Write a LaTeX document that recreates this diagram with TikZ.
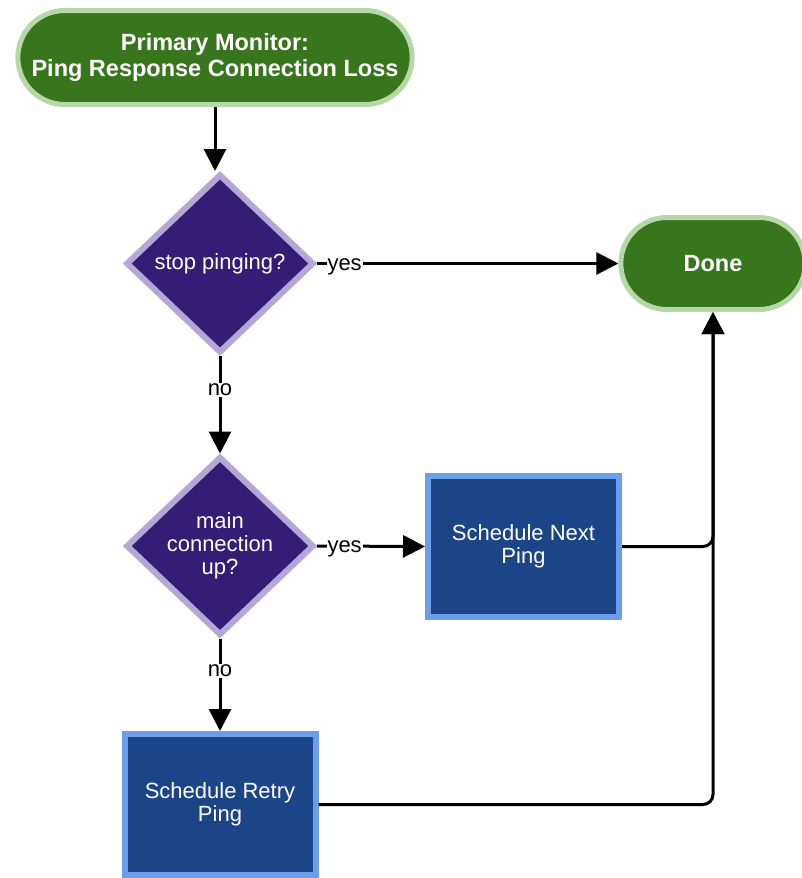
\documentclass[tikz,border=0pt]{standalone}
\usepackage{fontspec}
\setmainfont{Liberation Sans}
\usepackage{tikz}
\usetikzlibrary{arrows.meta, positioning, shapes.geometric, shapes.misc}

\definecolor{termfill}{HTML}{38761D}
\definecolor{termedge}{HTML}{B6D7A8}
\definecolor{decfill}{HTML}{351C75}
\definecolor{decedge}{HTML}{B4A7D6}
\definecolor{procfill}{HTML}{1C4587}
\definecolor{procedge}{HTML}{6D9EEB}

\tikzset{
  terminal/.style={rounded rectangle, fill=termfill, draw=termedge, line width=5pt,
    text=white, align=center, font=\bfseries\fontsize{23.5}{26}\selectfont},
  decision/.style={diamond, fill=decfill, draw=decedge, line width=6pt, inner sep=0pt,
    minimum width=188pt, minimum height=179pt,
    text=white, align=center, font=\fontsize{22}{23}\selectfont},
  process/.style={rectangle, fill=procfill, draw=procedge, line width=6pt,
    minimum width=191pt, minimum height=141pt,
    text=white, align=center, font=\fontsize{22}{23}\selectfont},
  flowline/.style={line width=3pt, black, -{Triangle[length=22pt, width=22pt]}},
  flowlabel/.style={fill=white, inner sep=1pt, text=black, font=\fontsize{22}{23}\selectfont},
}

\begin{document}
\begin{tikzpicture}[x=1pt, y=-1pt]

\useasboundingbox (0,0) rectangle (802,878);

% Draw the start and end
\node[terminal, minimum width=401pt, minimum height=94pt] (start) at (215,57.5) {Primary Monitor:\\Ping Response Connection Loss};
\node[terminal, minimum width=191pt, minimum height=92pt] (done) at (713,263.5) {Done};

% Draw the decisions
\node[decision] (stop) at (220,263.5) {stop pinging?};
\node[decision] (up) at (220,546) {main\\connection\\up?};

% Draw the boxes
\node[process] (next) at (523.5,546.5) {Schedule Next\\Ping};
\node[process] (retry) at (220,804.5) {Schedule Retry\\Ping};

% Draw the arrows
\draw[flowline] (start.south) -- (start.south |- stop.north);
\draw[flowline] (stop.east) -- node[flowlabel, pos=0, anchor=west, xshift=8pt, yshift=-3pt] {yes} (done.west);
\draw[flowline] (stop.south) -- node[flowlabel, pos=0.35] {no} (up.north);
\draw[flowline] (up.east) -- node[flowlabel, pos=0, anchor=west, xshift=8pt, yshift=-3pt] {yes} (next.west);
\draw[flowline] (up.south) -- node[flowlabel, pos=0.35] {no} (retry.north);
% Back to done
\draw[flowline, rounded corners=10pt] (next.east) -| (done.south);
\draw[flowline, rounded corners=10pt] (retry.east) -| (done.south);

\end{tikzpicture}
\end{document}
